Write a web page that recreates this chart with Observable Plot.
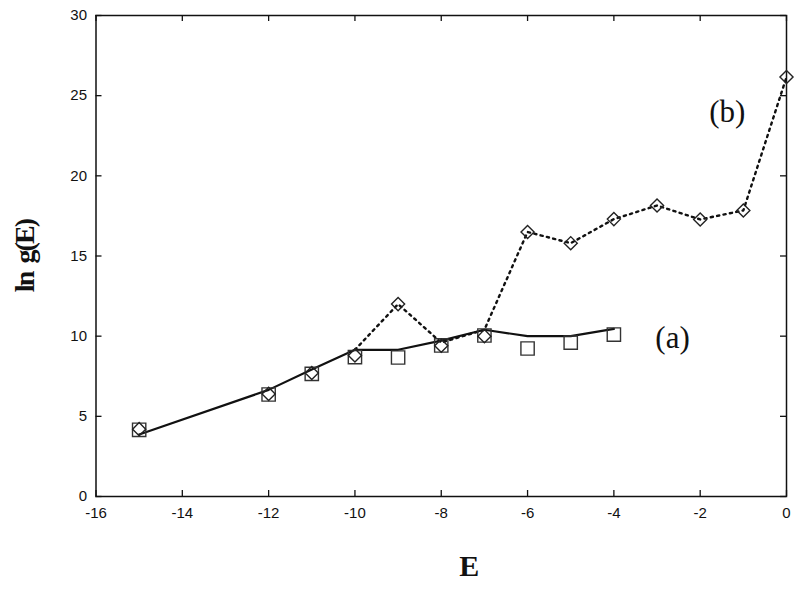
<!DOCTYPE html>
<html>
<head>
<meta charset="utf-8">
<script src="https://cdn.jsdelivr.net/npm/d3@7"></script>
<script src="https://cdn.jsdelivr.net/npm/@observablehq/plot@0.6"></script>
<style>
  html, body { margin: 0; padding: 0; background: #fff; }
</style>
</head>
<body>
<div id="chart"></div>
<script>
// ---- data ----
const xTicks = [-16, -14, -12, -10, -8, -6, -4, -2, 0];
const yTicks = [0, 5, 10, 15, 20, 25, 30];

// series (a): squares and solid line
const squaresE = [-15, -12, -11, -10, -9, -8, -7, -6, -5, -4];
const squaresLnG = [4.16, 6.36, 7.65, 8.69, 8.67, 9.42, 10.04, 9.23, 9.6, 10.1];
const lineAE = [-15, -12, -11, -10, -9, -8, -7, -6, -5, -4];
const lineALnG = [3.87, 6.65, 7.92, 9.15, 9.15, 9.72, 10.4, 10.0, 10.0, 10.45];

// series (b): diamonds and dotted line
const diamondsE = [-15, -12, -11, -10, -9, -8, -7, -6, -5, -4, -3, -2, -1, 0];
const diamondsLnG = [4.2, 6.4, 7.7, 8.8, 12.0, 9.4, 10.0, 16.5, 15.8, 17.3, 18.15, 17.28, 17.84, 26.16];
const lineBE = [-10, -9, -8, -7, -6, -5, -4, -3, -2, -1, 0];
const lineBLnG = [9.15, 12.0, 9.6, 10.4, 16.5, 15.8, 17.3, 18.15, 17.28, 17.84, 26.16];

// curve labels
const labelText = ["(a)", "(b)"];
const labelE = [-2.64, -1.37];
const labelLnG = [9.9, 23.95];

// ---- tables ----
const squares = squaresE.map((e, i) => ({E: e, v: squaresLnG[i]}));
const lineA = lineAE.map((e, i) => ({E: e, v: lineALnG[i]}));
const diamonds = diamondsE.map((e, i) => ({E: e, v: diamondsLnG[i]}));
const lineB = lineBE.map((e, i) => ({E: e, v: lineBLnG[i]}));
const labels = labelText.map((t, i) => ({t, E: labelE[i], v: labelLnG[i]}));

const W = 800, H = 589;
const mL = 95.5, mR = 14, mT = 15, mB = 93;
const fw = W - mL - mR, fh = H - mT - mB;
const tickLen = 6;
const ink = "#111";
const serif = "'Liberation Serif', 'Times New Roman', serif";
const sans = "'Liberation Sans', Arial, sans-serif";

const chart = Plot.plot({
  width: W,
  height: H,
  marginLeft: mL,
  marginRight: mR,
  marginTop: mT,
  marginBottom: mB,
  style: {fontFamily: sans, fontSize: "15px", color: ink, background: "#fff"},
  x: {domain: [-16, 0]},
  y: {domain: [0, 30]},
  marks: [
    // inward ticks on all four sides
    Plot.tickX(xTicks, {x: d => d, insetTop: fh - tickLen, stroke: ink, strokeWidth: 1.3}),
    Plot.tickX(xTicks, {x: d => d, insetBottom: fh - tickLen, stroke: ink, strokeWidth: 1.3}),
    Plot.tickY(yTicks, {y: d => d, insetRight: fw - tickLen, stroke: ink, strokeWidth: 1.3}),
    Plot.tickY(yTicks, {y: d => d, insetLeft: fw - tickLen, stroke: ink, strokeWidth: 1.3}),
    Plot.axisX({ticks: xTicks, tickSize: 0, tickPadding: 11, label: null, tickFormat: d => String(d), fill: ink, fontSize: 15, fontFamily: sans}),
    Plot.axisY({ticks: yTicks, tickSize: 0, tickPadding: 9, label: null, tickFormat: d => String(d), fill: ink, fontSize: 15, fontFamily: sans}),
    Plot.frame({stroke: ink, strokeWidth: 1.5}),
    // dotted line (b)
    Plot.line(lineB, {x: "E", y: "v", stroke: ink, strokeWidth: 2.4, strokeDasharray: "2.2,4.3"}),
    // solid line (a)
    Plot.line(lineA, {x: "E", y: "v", stroke: ink, strokeWidth: 2.2}),
    // markers
    Plot.dot(squares, {x: "E", y: "v", symbol: "square", r: 7.5, stroke: "#333", strokeWidth: 1.4, fill: "none"}),
    Plot.dot(diamonds, {x: "E", y: "v", symbol: "diamond2", r: 5.9, stroke: "#222", strokeWidth: 1.4, fill: "none"}),
    // curve labels
    Plot.text(labels, {x: "E", y: "v", text: "t", fontFamily: serif, fontSize: 31, fill: ink}),
    // axis titles
    Plot.text(["ln g(E)"], {className: "ylab", frameAnchor: "left", textAnchor: "middle", dx: -71, dy: 0, rotate: -90, fontFamily: serif, fontWeight: "bold", fontSize: 28, fill: ink}),
    Plot.text(["E"], {frameAnchor: "bottom", dx: 28, dy: 79, fontFamily: serif, fontWeight: "bold", fontSize: 30, fill: ink})
  ]
});
chart.querySelectorAll(".ylab text").forEach(t => { t.style.letterSpacing = "-1.9px"; t.style.wordSpacing = "4px"; });
document.getElementById("chart").appendChild(chart);
</script>
</body>
</html>
